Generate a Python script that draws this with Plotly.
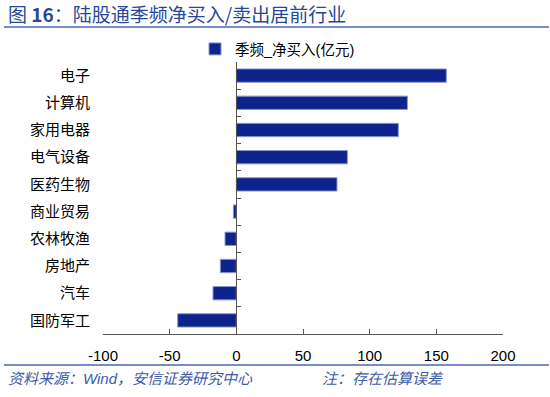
import plotly.graph_objects as go

categories = ["电子", "计算机", "家用电器", "电气设备", "医药生物",
              "商业贸易", "农林牧渔", "房地产", "汽车", "国防军工"]
net_buy = [157.5, 128.3, 121.5, 83.3, 75.5, -2.2, -8.5, -12.0, -17.5, -44.0]
series_name = "季频_净买入(亿元)"
x_ticks = [-100, -50, 0, 50, 100, 150, 200]
x_tick_text = ["-100", "-50", "0", "50", "100", "150", "200"]

W, H = 550, 397
L, R, T, B = 103, 47, 62, 63
PW, PH = W - L - R, H - T - B

def px_x(px):
    return (px - L) / PW

def px_y(py):
    return (H - B - py) / PH

FONT = "Liberation Sans, Arial, Noto Sans CJK SC, sans-serif"
BLUE_TXT = "#27489a"
BAR = "#0f238c"

fig = go.Figure()
fig.add_trace(go.Bar(
    x=net_buy, y=categories, orientation="h", name=series_name,
    marker=dict(color=BAR, line=dict(color="#8a97cf", width=1)),
    showlegend=True,
))
fig.add_trace(go.Scatter(
    x=net_buy, y=categories, yaxis="y2", mode="none",
    showlegend=False, hoverinfo="skip",
))

fig.update_layout(
    width=W, height=H,
    margin=dict(l=L, r=R, t=T, b=B, autoexpand=False),
    paper_bgcolor="white", plot_bgcolor="white",
    font=dict(family=FONT, size=15, color="#000000"),
    bargap=0.51,
    xaxis=dict(
        range=[x_ticks[0], x_ticks[-1]], tickvals=x_ticks, ticktext=x_tick_text,
        showgrid=False, zeroline=False,
        showline=True, linecolor="#555555", linewidth=1,
        ticks="inside", ticklen=5, tickcolor="#555555",
        tickfont=dict(size=15), ticklabelstandoff=8,
        domain=[0, 1], automargin=False,
    ),
    yaxis=dict(
        type="category", autorange="reversed",
        showgrid=False, zeroline=False, showline=False,
        ticks="", tickfont=dict(size=15, family="Noto Sans CJK SC, sans-serif"),
        ticklabelstandoff=12, automargin=False,
    ),
    yaxis2=dict(
        type="category", autorange="reversed", overlaying="y",
        anchor="free", position=(0 - x_ticks[0]) / (x_ticks[-1] - x_ticks[0]),
        showline=True, linecolor="#555555", linewidth=1,
        ticks="inside", tickson="boundaries", ticklen=4, tickcolor="#555555",
        showticklabels=False, showgrid=False, zeroline=False,
    ),
    legend=dict(
        orientation="h", x=px_x(195), xanchor="left",
        y=px_y(49), yanchor="middle",
        font=dict(size=14.5, family=FONT), itemwidth=30,
        bgcolor="rgba(0,0,0,0)",
    ),
)

# title
fig.add_annotation(
    text="图 <b>16</b>：陆股通季频净买入/卖出居前行业",
    xref="paper", yref="paper", x=px_x(6), y=px_y(14),
    xanchor="left", yanchor="middle", showarrow=False,
    font=dict(size=19, color=BLUE_TXT, family="Noto Sans CJK SC, sans-serif"),
)
# footer
fig.add_annotation(
    text="<i>资料来源：Wind，安信证券研究中心</i>",
    xref="paper", yref="paper", x=px_x(6), y=px_y(378),
    xanchor="left", yanchor="middle", showarrow=False,
    font=dict(size=15, color="#3a5ca8", family=FONT),
)
fig.add_annotation(
    text="<i>注：存在估算误差</i>",
    xref="paper", yref="paper", x=px_x(320), y=px_y(378),
    xanchor="left", yanchor="middle", showarrow=False,
    font=dict(size=15, color="#3a5ca8", family=FONT),
)
# rules
for yy in (27, 365):
    fig.add_shape(type="line", xref="paper", yref="paper",
                  x0=px_x(4), x1=px_x(549), y0=px_y(yy), y1=px_y(yy),
                  line=dict(color="#4a68b0", width=1.6))

fig.write_html("out.html",
               config={"displayModeBar": False},
               post_script="document.body.style.margin='0';document.body.style.overflow='hidden';")
